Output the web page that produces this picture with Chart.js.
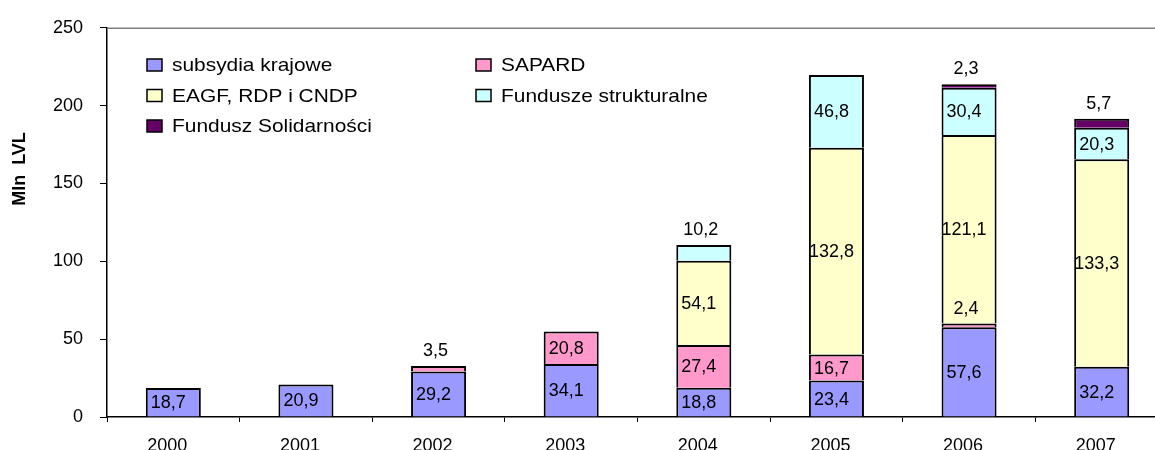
<!DOCTYPE html>
<html>
<head>
<meta charset="utf-8">
<script src="https://cdn.jsdelivr.net/npm/chart.js@4.4.0/dist/chart.umd.min.js"></script>
<style>
  html, body { margin: 0; padding: 0; background: #fff; overflow: hidden; }
  #wrap { width: 1155px; height: 450px; overflow: hidden; }
</style>
</head>
<body>
<div id="wrap"><canvas id="chart" width="1180" height="450"></canvas></div>
<script>
// categories and series (Mln LVL)
const years = ['2000', '2001', '2002', '2003', '2004', '2005', '2006', '2007'];
const subsydia = [18.7, 20.9, 29.2, 34.1, 18.8, 23.4, 57.6, 32.2];
const sapard = [null, null, 3.5, 20.8, 27.4, 16.7, 2.4, null];
const eagf = [null, null, null, null, 54.1, 132.8, 121.1, 133.3];
const strukturalne = [null, null, null, null, 10.2, 46.8, 30.4, 20.3];
const solidarnosci = [null, null, null, null, null, null, 2.3, 5.7];
const yTicks = [0, 50, 100, 150, 200, 250];

const seriesNames = ['subsydia krajowe', 'SAPARD', 'EAGF, RDP i CNDP', 'Fundusze strukturalne', 'Fundusz Solidarności'];
const seriesColors = ['#9999FF', '#FF99CC', '#FFFFCC', '#CCFFFF', '#660066'];
const seriesData = [subsydia, sapard, eagf, strukturalne, solidarnosci];

const FONT = "'Liberation Sans', Arial, sans-serif";

const fmt = (v) => v.toFixed(1).replace('.', ',');

//labels on the bar segments, small ones go above the segment
const valueLabels = {
  id: 'valueLabels',
  afterDatasetsDraw(chart) {
    const ctx = chart.ctx;
    ctx.save();
    ctx.font = '18px ' + FONT;
    ctx.fillStyle = '#000';
    ctx.textAlign = 'center';
    ctx.textBaseline = 'middle';
    chart.data.datasets.forEach((ds, i) => {
      const meta = chart.getDatasetMeta(i);
      meta.data.forEach((bar, j) => {
        const v = ds.data[j];
        if (v == null) return;
        const { x, y, base } = bar.getProps(['x', 'y', 'base'], true);
        const h = base - y;
        if (h >= 20) {
          ctx.fillText(fmt(v), x - 5, (y + base) / 2 + 1);
        } else {
          ctx.fillText(fmt(v), x - 3, y - 15);
        }
      });
    });
    ctx.restore();
  }
};

//legend inside the plot, two columns like the original
const innerLegend = {
  id: 'innerLegend',
  afterDraw(chart) {
    const ctx = chart.ctx;
    const area = chart.chartArea;
    ctx.save();

    //top frame line of the plot area
    ctx.strokeStyle = '#808080';
    ctx.lineWidth = 1.5;
    ctx.beginPath();
    ctx.moveTo(area.left, area.top + 0.5);
    ctx.lineTo(area.right, area.top + 0.5);
    ctx.stroke();

    const cols = [147, 476];
    const rows = [65, 95.5, 126];
    const slots = [[0, 0], [1, 0], [0, 1], [1, 1], [0, 2]];
    ctx.font = '19px ' + FONT;
    ctx.textBaseline = 'middle';
    seriesNames.forEach((name, i) => {
      const bx = cols[slots[i][0]];
      const by = rows[slots[i][1]];
      ctx.fillStyle = seriesColors[i];
      ctx.fillRect(bx, by - 6, 15, 12);
      ctx.strokeStyle = '#000';
      ctx.lineWidth = 1.5;
      ctx.strokeRect(bx, by - 6, 15, 12);
      ctx.fillStyle = '#000';
      ctx.save();
      ctx.translate(bx + 25, by + 1);
      ctx.scale(1.1, 1);
      ctx.fillText(name, 0, 0);
      ctx.restore();
    });

    //y axis title
    ctx.save();
    ctx.translate(20, 169);
    ctx.rotate(-Math.PI / 2);
    ctx.font = 'bold 18px ' + FONT;
    ctx.textAlign = 'center';
    ctx.textBaseline = 'middle';
    ctx.fillText('Mln  LVL', 0, 0);
    ctx.restore();

    ctx.restore();
  }
};

new Chart(document.getElementById('chart'), {
  type: 'bar',
  data: {
    labels: years,
    datasets: seriesData.map((d, i) => ({
      label: seriesNames[i],
      data: d,
      backgroundColor: seriesColors[i],
      borderColor: '#000',
      //bottom edge left out so stacked segments share one line
      borderWidth: { left: 2, right: 2, top: 2, bottom: 0 },
      borderSkipped: false,
      barPercentage: 0.415,
      categoryPercentage: 1.0,
    })),
  },
  options: {
    responsive: false,
    animation: false,
    devicePixelRatio: 1,
    layout: { padding: { top: 22, right: 12, left: 0, bottom: 0 } },
    plugins: {
      legend: { display: false },
      tooltip: { enabled: false },
    },
    scales: {
      x: {
        stacked: true,
        grid: { display: true, drawOnChartArea: false, drawTicks: true, tickLength: 5, color: '#000', offset: true },
        border: { color: '#000', width: 1.5 },
        ticks: {
          color: '#000',
          font: { family: FONT, size: 18 },
          padding: 13,
          labelOffset: -6,
          autoSkip: false,
          maxRotation: 0,
        },
        afterFit(scale) { scale.height = 33; },
      },
      y: {
        stacked: true,
        min: 0,
        max: 250,
        afterBuildTicks(scale) { scale.ticks = yTicks.map((v) => ({ value: v })); },
        grid: { display: true, drawOnChartArea: false, drawTicks: true, tickLength: 7, color: '#000' },
        border: { color: '#000', width: 1.5 },
        ticks: {
          color: '#000',
          font: { family: FONT, size: 18 },
          padding: 17,
        },
        afterFit(scale) { scale.width = 107; },
      },
    },
  },
  plugins: [valueLabels, innerLegend],
});
</script>
</body>
</html>
